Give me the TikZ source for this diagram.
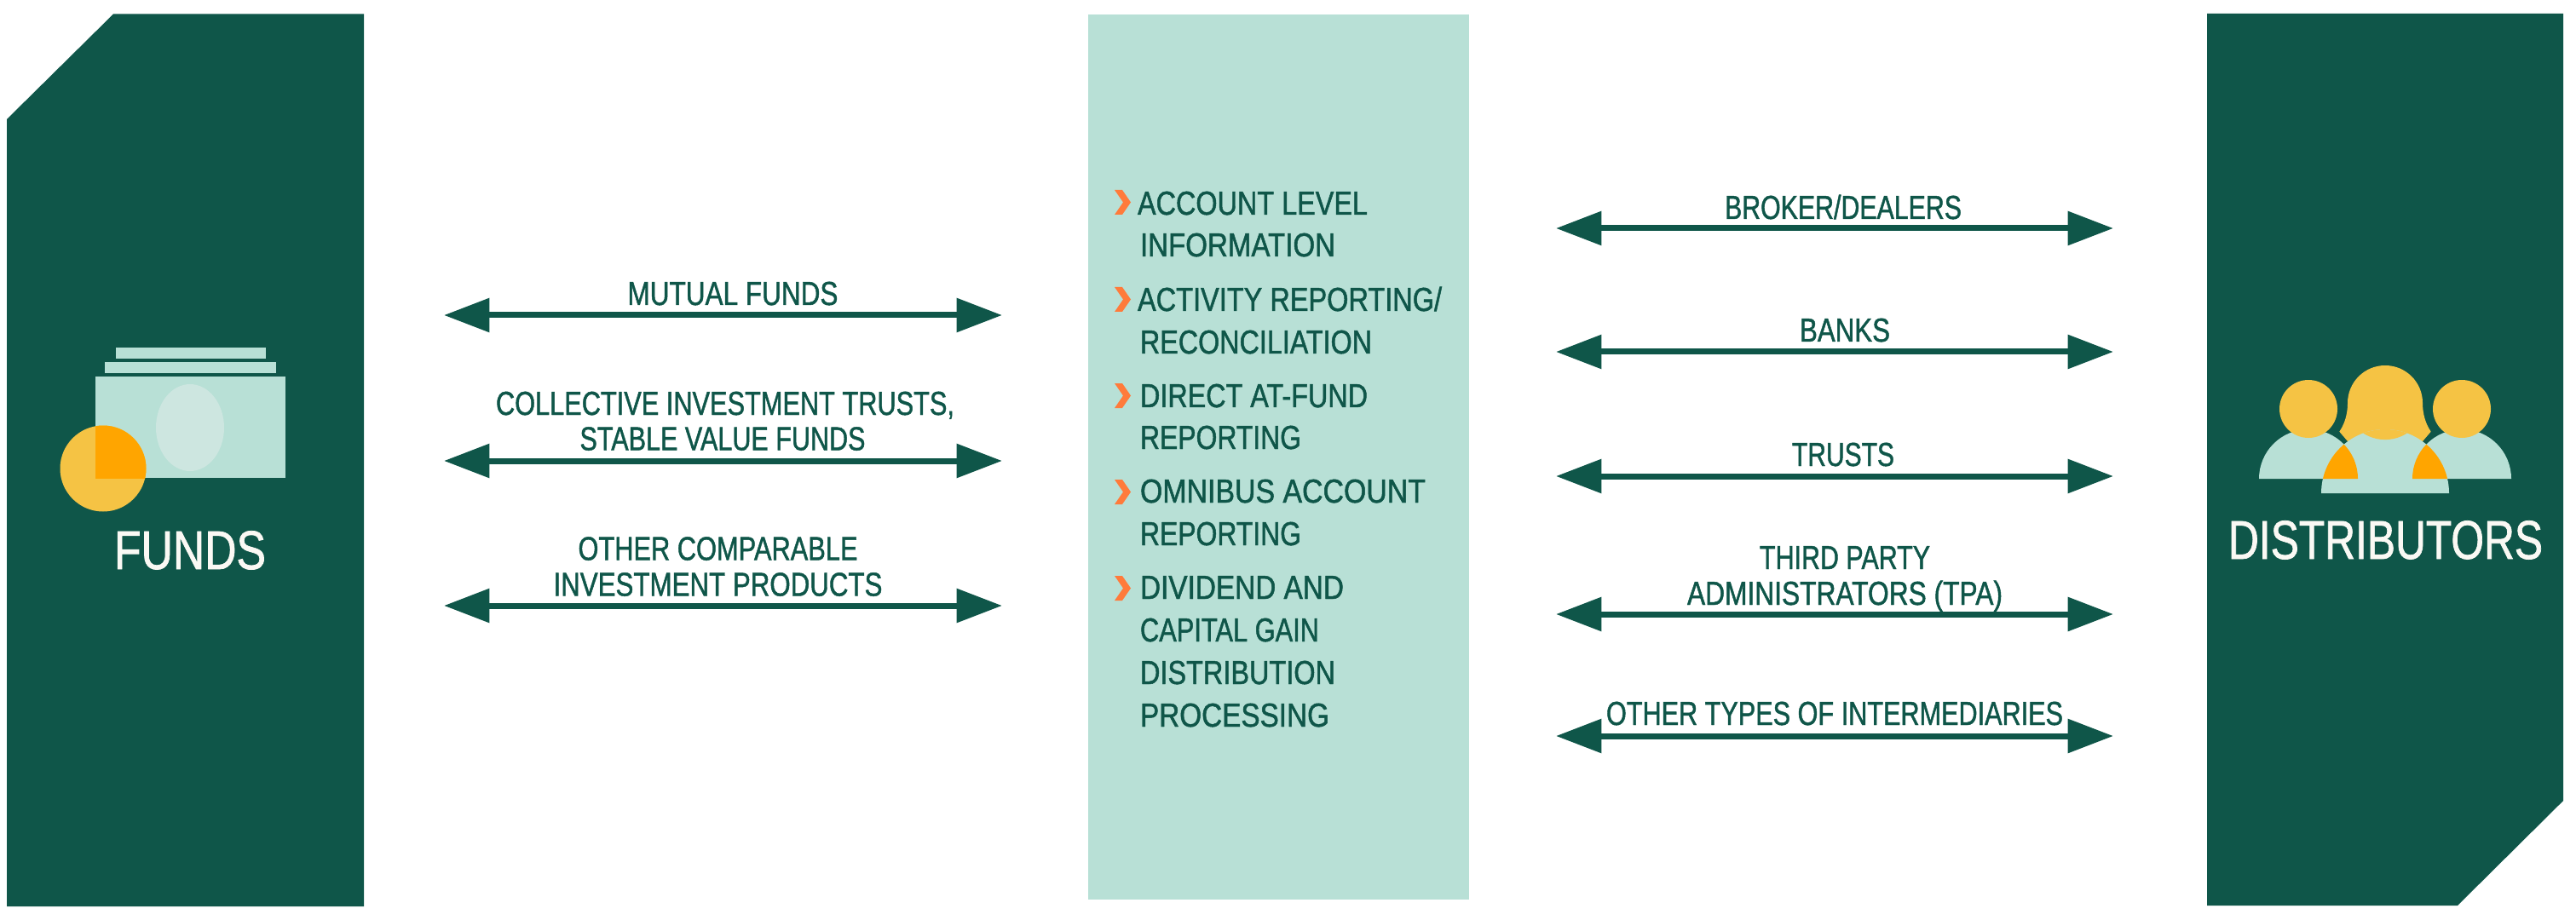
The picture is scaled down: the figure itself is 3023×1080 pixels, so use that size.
\documentclass[tikz,border=0pt]{standalone}
\usepackage{fontspec}
\usepackage{graphicx}
\usetikzlibrary{arrows.meta}
\setmainfont{Liberation Sans}[FakeStretch=0.83,FakeBold=1.2]
\definecolor{deep}{HTML}{0F5649}
\definecolor{mint}{HTML}{B8E0D6}
\definecolor{pale}{HTML}{CDE6E0}
\definecolor{sun}{HTML}{F5C344}
\definecolor{amber}{HTML}{FFA500}
\definecolor{chev}{HTML}{FF7B3B}
\definecolor{chalk}{HTML}{FAF9F4}
\newcommand{\fitw}[2]{\resizebox{\dimexpr #1pt*3/4\relax}{\height}{#2}}
\tikzset{
  x=0.75pt,y=-0.75pt,
  lbl/.style={inner sep=0pt,outer sep=0pt,text=deep,anchor=base,font=\fontsize{29.3pt}{32pt}\selectfont},
  item/.style={lbl,anchor=base west},
  ttl/.style={inner sep=0pt,outer sep=0pt,text=chalk,anchor=base,font=\fontsize{48pt}{52pt}\selectfont},
  twoway/.style={draw=deep,line width=5.25pt,{Triangle[length=40pt,width=29pt]}-{Triangle[length=40pt,width=29pt]}},
  chevron/.pic={\fill[chev] (0,0)--(9,0)--(19,14.5)--(9,29)--(0,29)--(10,14.5)--cycle;}
}
\begin{document}
\begin{tikzpicture}
\useasboundingbox (0,0) rectangle (3023,1080);
% panels
\fill[deep] (8,140)--(133,16.5)--(427,16.5)--(427,1064)--(8,1064)--cycle;
\fill[mint] (1277,17) rectangle (1724,1056);
\fill[deep] (2590,16)--(3008,16)--(3008,940)--(2884,1063)--(2590,1063)--cycle;
% funds icon
\fill[mint] (136,408) rectangle (312,421);
\fill[mint] (123,425) rectangle (324,438);
\fill[mint] (112,442) rectangle (335,561);
\fill[pale] (223,502) ellipse (40 and 51);
\fill[sun] (121,550) circle (50.5);
\begin{scope}
  \clip (112,442) rectangle (335,561);
  \fill[amber] (121,550) circle (50.5);
\end{scope}
\node[ttl] (funds) at (223,668) {\fitw{178}{FUNDS}};
% distributors icon
\fill[sun] (2745.3,506.7)
  .. controls (2754,494) and (2755,480) .. (2755,473)
  arc[start angle=180,end angle=360,radius=44]
  .. controls (2843,480) and (2844,494) .. (2852.7,506.7)
  -- (2843,518) -- (2755,518) -- cycle;
\fill[mint] (2651,562) arc[start angle=180,end angle=360,radius=58] -- cycle;
\fill[mint] (2831,562) arc[start angle=180,end angle=360,radius=58] -- cycle;
\fill[mint] (2724,579) arc[start angle=180,end angle=360,radius=75] -- cycle;
\begin{scope}
  \clip (2651,562) arc[start angle=180,end angle=360,radius=58] -- cycle;
  \fill[amber] (2724,579) arc[start angle=180,end angle=360,radius=75] -- cycle;
\end{scope}
\begin{scope}
  \clip (2831,562) arc[start angle=180,end angle=360,radius=58] -- cycle;
  \fill[amber] (2724,579) arc[start angle=180,end angle=360,radius=75] -- cycle;
\end{scope}
\begin{scope}
  \clip (2724,579) arc[start angle=180,end angle=360,radius=75] -- cycle;
  \fill[sun] (2799,468.7) circle (47.4);
\end{scope}
\fill[sun] (2709,480) circle (34);
\fill[sun] (2889,480) circle (34);
\node[ttl] (dist) at (2799.5,656) {\fitw{369}{DISTRIBUTORS}};
% left arrows
\coordinate (la1) at (521,370); \coordinate (lb1) at (1176,370);
\coordinate (la2) at (521,541); \coordinate (lb2) at (1176,541);
\coordinate (la3) at (521,711); \coordinate (lb3) at (1176,711);
\draw[twoway] (la1) -- (lb1);
\draw[twoway] (la2) -- (lb2);
\draw[twoway] (la3) -- (lb3);
\node[lbl] (t1) at (860,358) {\fitw{247}{MUTUAL FUNDS}};
\node[lbl] (t2a) at (851,487) {\fitw{538}{COLLECTIVE INVESTMENT TRUSTS,}};
\node[lbl] (t2b) at (848,528.5) {\fitw{335}{STABLE VALUE FUNDS}};
\node[lbl] (t3a) at (842.5,657.5) {\fitw{328}{OTHER COMPARABLE}};
\node[lbl] (t3b) at (842.5,699.5) {\fitw{386}{INVESTMENT PRODUCTS}};
% right arrows
\coordinate (ra1) at (1826,268); \coordinate (rb1) at (2480,268);
\coordinate (ra2) at (1826,413); \coordinate (rb2) at (2480,413);
\coordinate (ra3) at (1826,559); \coordinate (rb3) at (2480,559);
\coordinate (ra4) at (1826,721); \coordinate (rb4) at (2480,721);
\coordinate (ra5) at (1826,864); \coordinate (rb5) at (2480,864);
\draw[twoway] (ra1) -- (rb1);
\draw[twoway] (ra2) -- (rb2);
\draw[twoway] (ra3) -- (rb3);
\draw[twoway] (ra4) -- (rb4);
\draw[twoway] (ra5) -- (rb5);
\node[lbl] (r1) at (2163,257) {\fitw{278}{BROKER/DEALERS}};
\node[lbl] (r2) at (2165,401) {\fitw{106}{BANKS}};
\node[lbl] (r3) at (2163,547) {\fitw{120}{TRUSTS}};
\node[lbl] (r4a) at (2165,668) {\fitw{200}{THIRD PARTY}};
\node[lbl] (r4b) at (2165,710) {\fitw{370}{ADMINISTRATORS (TPA)}};
\node[lbl] (r5) at (2153,851) {\fitw{536}{OTHER TYPES OF INTERMEDIARIES}};
% list
\pic at (1308,223) {chevron};
\pic at (1308,337) {chevron};
\pic at (1308,450) {chevron};
\pic at (1308,563) {chevron};
\pic at (1308,676) {chevron};
\node[item] (i1a) at (1335,252) {\fitw{270}{ACCOUNT LEVEL}};
\node[item] (i1b) at (1338,301) {\fitw{229}{INFORMATION}};
\node[item] (i2a) at (1335,365) {\fitw{357}{ACTIVITY REPORTING/}};
\node[item] (i2b) at (1338,415) {\fitw{272}{RECONCILIATION}};
\node[item] (i3a) at (1338,478) {\fitw{267}{DIRECT AT-FUND}};
\node[item] (i3b) at (1338,527) {\fitw{189}{REPORTING}};
\node[item] (i4a) at (1338,590) {\fitw{335}{OMNIBUS ACCOUNT}};
\node[item] (i4b) at (1338,640) {\fitw{189}{REPORTING}};
\node[item] (i5a) at (1338,703) {\fitw{239}{DIVIDEND AND}};
\node[item] (i5b) at (1338,753) {\fitw{210}{CAPITAL GAIN}};
\node[item] (i5c) at (1338,803) {\fitw{229}{DISTRIBUTION}};
\node[item] (i5d) at (1338,853) {\fitw{222}{PROCESSING}};
\end{tikzpicture}
\end{document}
